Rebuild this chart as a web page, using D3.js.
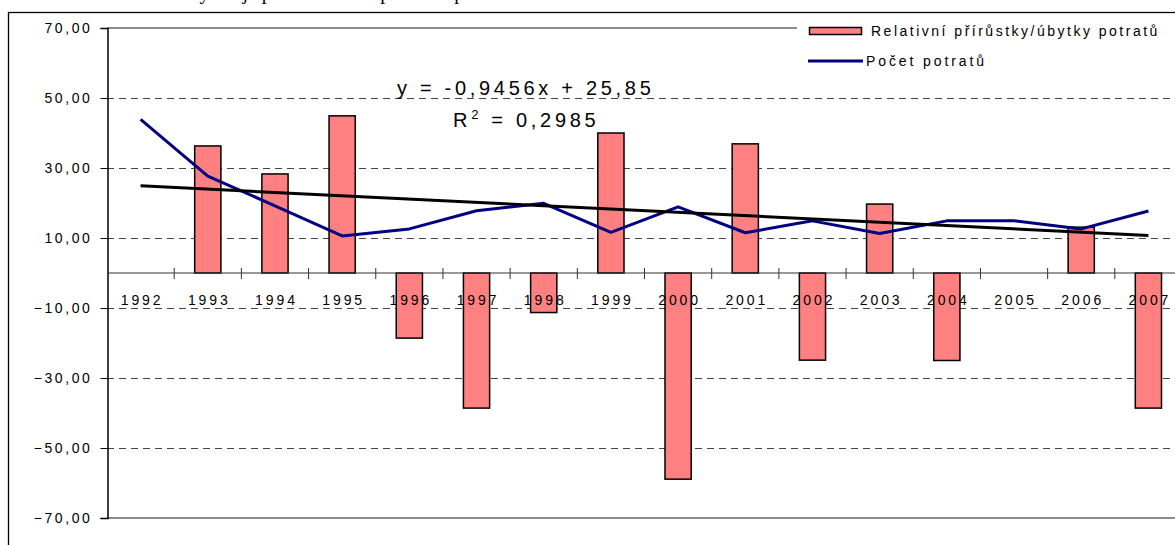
<!DOCTYPE html>
<meta charset="utf-8">
<style>
  body { margin: 0; background: #fff; }
  svg { display: block; font-family: "Liberation Sans", Arial, sans-serif; }
  text { letter-spacing: 2.9px; }
</style>
<svg width="1175" height="545"></svg>
<script src="https://d3js.org/d3.v7.min.js"></script>
<script>
// years on the category axis
var years = ["1992", "1993", "1994", "1995", "1996", "1997", "1998", "1999",
             "2000", "2001", "2002", "2003", "2004", "2005", "2006", "2007"];

// Relativní přírůstky/úbytky potratů (bars)
var relChange = [null, 36.3, 28.3, 44.9, -18.6, -38.6, -11.3, 40.0,
                 -58.9, 36.9, -24.9, 19.7, -25.0, 0, 13.1, -38.6];

// Počet potratů (line)
var abortions = [43.9, 27.7, 19.2, 10.6, 12.6, 17.8, 19.9, 11.6,
                 18.9, 11.5, 14.9, 11.3, 14.9, 14.9, 12.6, 17.7];

// linear trend of the line series, as printed on the chart
var trendSlope = -0.9456, trendIntercept = 25.85;
var trendLabel = "y = -0,9456x + 25,85";
var r2Label = "0,2985";

var yTicks = [-70, -50, -30, -10, 10, 30, 50, 70];
var gridTicks = [-50, -30, -10, 10, 30, 50];

var seriesNames = ["Relativní přírůstky/úbytky potratů", "Počet potratů"];
var chartTitle = "Relativní vývoj potratů a počet potratů";

var svg = d3.select("svg");

var x = d3.scaleBand().domain(years).range([107, 1182]).padding(0);
var y = d3.scaleLinear().domain([-70, 70]).range([518, 28]);
var fmt = function(d) { return d3.format(".2f")(d).replace(".", ","); };

// clipped title above the frame
svg.append("text")
    .attr("x", 64).attr("y", -1.5)
    .style("font-family", "'Liberation Serif', 'Times New Roman', serif")
    .style("font-size", "20px")
    .style("letter-spacing", "4.3px")
    .text(chartTitle);

// outer frame (runs off the right and bottom edges)
svg.append("rect")
    .attr("x", 8.5).attr("y", 12.5)
    .attr("width", 1300).attr("height", 600)
    .attr("fill", "none").attr("stroke", "#000").attr("stroke-width", 1.3);

// plot area top / bottom borders
svg.append("g").selectAll("line")
  .data([70, -70])
  .join("line")
    .attr("x1", 107).attr("x2", 1182)
    .attr("y1", function(d) { return y(d); })
    .attr("y2", function(d) { return y(d); })
    .attr("stroke", "#8c8c8c").attr("stroke-width", 2);

// dashed gridlines
svg.append("g").selectAll("line")
  .data(gridTicks)
  .join("line")
    .attr("x1", 107).attr("x2", 1182)
    .attr("y1", function(d) { return Math.round(y(d)) + 0.5; })
    .attr("y2", function(d) { return Math.round(y(d)) + 0.5; })
    .attr("stroke", "#444").attr("stroke-width", 1)
    .attr("stroke-dasharray", "7,5");

// y axis
var yAxis = svg.append("g")
    .attr("transform", "translate(107.5,0)")
    .call(d3.axisLeft(y).tickValues(yTicks).tickFormat(fmt).tickSize(7).tickPadding(8));
yAxis.select(".domain").attr("stroke", "#000").attr("stroke-width", 1.5);
yAxis.selectAll(".tick line").attr("stroke", "#000");
yAxis.selectAll("text").attr("fill", "#000").style("font-size", "14px")
    .style("letter-spacing", "2.6px")
    .style("font-family", "'Liberation Sans', Arial, sans-serif");

// bars
var barW = x.bandwidth() * 0.39;
svg.append("g").selectAll("rect")
  .data(years.map(function(d, i) { return {year: d, v: relChange[i]}; })
              .filter(function(d) { return d.v; }))
  .join("rect")
    .attr("x", function(d) { return x(d.year) + (x.bandwidth() - barW) / 2; })
    .attr("width", barW)
    .attr("y", function(d) { return y(Math.max(0, d.v)); })
    .attr("height", function(d) { return Math.abs(y(d.v) - y(0)); })
    .attr("fill", "#ff8080").attr("stroke", "#000").attr("stroke-width", 1.5);

// x axis along zero
var y0 = y(0);
svg.append("line")
    .attr("x1", 107).attr("x2", 1182)
    .attr("y1", y0).attr("y2", y0)
    .attr("stroke", "#333").attr("stroke-width", 1.2);
svg.append("g").selectAll("line")
  .data(years.slice(1))
  .join("line")
    .attr("x1", function(d) { return x(d); }).attr("x2", function(d) { return x(d); })
    .attr("y1", y0 - 5).attr("y2", y0 + 6)
    .attr("stroke", "#333").attr("stroke-width", 1);

// line series
var cx = function(d, i) { return x(years[i]) + x.bandwidth() / 2; };
svg.append("path")
    .datum(abortions)
    .attr("fill", "none").attr("stroke", "#000080").attr("stroke-width", 3)
    .attr("stroke-linejoin", "round")
    .attr("d", d3.line().x(cx).y(function(d) { return y(d); }));

// trend line
svg.append("path")
    .datum([1, years.length])
    .attr("fill", "none").attr("stroke", "#000").attr("stroke-width", 3)
    .attr("d", d3.line()
        .x(function(d) { return x(years[d - 1]) + x.bandwidth() / 2; })
        .y(function(d) { return y(trendSlope * d + trendIntercept); }));

// category labels
svg.append("g").selectAll("text")
  .data(years)
  .join("text")
    .attr("x", function(d) { return x(d) + x.bandwidth() / 2 + 1.5; })
    .attr("y", y0 + 32)
    .attr("text-anchor", "middle")
    .style("font-size", "14px")
    .text(function(d) { return d; });

// trend equation
svg.append("text")
    .attr("x", 397).attr("y", 95)
    .style("font-size", "20px")
    .style("letter-spacing", "3.7px")
    .text(trendLabel);
var r2 = svg.append("text")
    .attr("x", 453).attr("y", 127)
    .style("font-size", "20px")
    .style("letter-spacing", "3.7px");
r2.append("tspan").text("R");
r2.append("tspan").attr("dy", -8).style("font-size", "13px").text("2");
r2.append("tspan").attr("dy", 8).text(" = " + r2Label);

// legend
var lg = svg.append("g");
lg.append("rect")
    .attr("x", 797).attr("y", 14).attr("width", 400).attr("height", 60)
    .attr("fill", "#fff");
lg.append("rect")
    .attr("x", 809.5).attr("y", 27.5).attr("width", 52).attr("height", 7)
    .attr("fill", "#ff8080").attr("stroke", "#000").attr("stroke-width", 1.5);
lg.append("text")
    .attr("x", 871).attr("y", 36)
    .style("font-size", "14px")
    .style("letter-spacing", "2.5px")
    .text(seriesNames[0]);
lg.append("line")
    .attr("x1", 808).attr("x2", 863).attr("y1", 61).attr("y2", 61)
    .attr("stroke", "#000080").attr("stroke-width", 3);
lg.append("text")
    .attr("x", 866).attr("y", 66)
    .style("font-size", "14px")
    .text(seriesNames[1]);
</script>
